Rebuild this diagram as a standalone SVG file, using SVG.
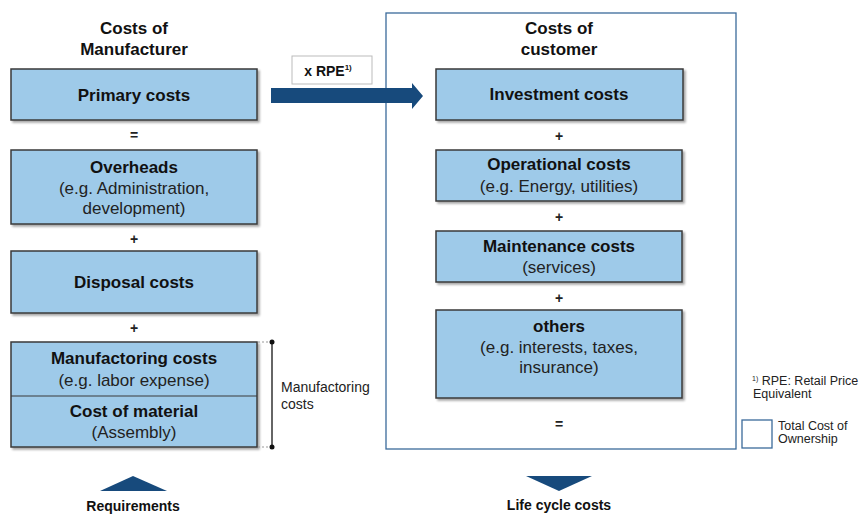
<svg xmlns="http://www.w3.org/2000/svg" width="861" height="517" viewBox="0 0 861 517">
<style>
text{font-family:"Liberation Sans",Arial,sans-serif;fill:#111}
.t{font-size:17px;font-weight:bold;text-anchor:middle}
.s{font-size:17px;text-anchor:middle;fill:#222}
.op{font-size:14px;font-weight:bold;text-anchor:middle;fill:#222}
.box{fill:#9ecae9;stroke:#3a3a3a;stroke-width:1.5;filter:url(#sh)}
.lg{font-size:12.5px;fill:#222}
</style>
<defs>
<filter id="sh" x="-5%" y="-10%" width="115%" height="130%">
<feDropShadow dx="2" dy="2" stdDeviation="1.2" flood-color="#000" flood-opacity="0.35"/>
</filter>
</defs>
<rect width="861" height="517" fill="#fff"/>

<g id="frame-customer">
<rect x="386" y="13" width="350" height="436" fill="none" stroke="#3b6a9a" stroke-width="1.3"/>
<text class="t" x="559" y="34">Costs of</text>
<text class="t" x="559" y="55">customer</text>
</g>

<g id="title-manufacturer">
<text class="t" x="134" y="34">Costs of</text>
<text class="t" x="134" y="55">Manufacturer</text>
</g>

<g id="primary">
<rect class="box" x="11" y="69" width="246" height="51"/>
<text class="t" x="134" y="101">Primary costs</text>
</g>
<text class="op" x="134" y="140">=</text>
<g id="overheads">
<rect class="box" x="11" y="150" width="246" height="74"/>
<text class="t" x="134" y="173">Overheads</text>
<text class="s" x="134" y="194">(e.g. Administration,</text>
<text class="s" x="134" y="214">development)</text>
</g>
<text class="op" x="134" y="244">+</text>
<g id="disposal">
<rect class="box" x="11" y="251" width="246" height="62"/>
<text class="t" x="134" y="288">Disposal costs</text>
</g>
<text class="op" x="134" y="333">+</text>
<g id="manufactoring">
<rect class="box" x="11" y="342" width="246" height="105"/>
<line x1="11" y1="396" x2="257" y2="396" stroke="#3a3a3a" stroke-width="1"/>
<text class="t" x="134" y="364">Manufactoring costs</text>
<text class="s" x="134" y="386">(e.g. labor expense)</text>
<text class="t" x="134" y="417">Cost of material</text>
<text class="s" x="134" y="438">(Assembly)</text>
</g>

<g id="bracket">
<line x1="258" y1="342" x2="272" y2="342" stroke="#999" stroke-width="1" stroke-dasharray="2,2"/>
<line x1="258" y1="447" x2="272" y2="447" stroke="#999" stroke-width="1" stroke-dasharray="2,2"/>
<line x1="272" y1="342" x2="272" y2="447" stroke="#333" stroke-width="1.5"/>
<circle cx="272" cy="342" r="2.5" fill="#111"/>
<circle cx="272" cy="447" r="2.5" fill="#111"/>
<text x="281" y="392" style="font-size:14px;fill:#222">Manufactoring</text>
<text x="281" y="409" style="font-size:14px;fill:#222">costs</text>
</g>

<g id="requirements">
<polygon points="100,491 133,476 167,491" fill="#174a7c"/>
<text x="133" y="511" style="font-size:14px;font-weight:bold;text-anchor:middle">Requirements</text>
</g>

<g id="connectors">
<polygon points="271,88 412,88 412,83 423,96 412,109 412,103 271,103" fill="#174a7c"/>
</g>
<g id="rpe-label">
<rect x="292" y="56" width="80" height="28" fill="#fff" stroke="#bbb" stroke-width="1"/>
<text x="328" y="76" style="font-size:14px;font-weight:bold;text-anchor:middle">x RPE<tspan dy="-6" style="font-size:8px">1)</tspan></text>
</g>

<g id="investment">
<rect class="box" x="436" y="69" width="247" height="51"/>
<text class="t" x="559" y="100">Investment costs</text>
</g>
<text class="op" x="559" y="141">+</text>
<g id="operational">
<rect class="box" x="436" y="150" width="246" height="51"/>
<text class="t" x="559" y="170">Operational costs</text>
<text class="s" x="559" y="192">(e.g. Energy, utilities)</text>
</g>
<text class="op" x="559" y="222">+</text>
<g id="maintenance">
<rect class="box" x="436" y="231" width="246" height="51"/>
<text class="t" x="559" y="252">Maintenance costs</text>
<text class="s" x="559" y="273">(services)</text>
</g>
<text class="op" x="559" y="303">+</text>
<g id="others">
<rect class="box" x="436" y="310" width="246" height="88"/>
<text class="t" x="559" y="332">others</text>
<text class="s" x="559" y="353">(e.g. interests, taxes,</text>
<text class="s" x="559" y="373">insurance)</text>
</g>
<text class="op" x="559" y="429">=</text>

<g id="lifecycle">
<polygon points="526,476 592,476 559,491" fill="#174a7c"/>
<text x="559" y="510" style="font-size:14px;font-weight:bold;text-anchor:middle">Life cycle costs</text>
</g>

<g id="legend">
<text class="lg" x="752" y="385"><tspan dy="-4" style="font-size:7px">1)</tspan><tspan dy="4"> RPE: Retail Price</tspan></text>
<text class="lg" x="753" y="398">Equivalent</text>
<rect x="742" y="420" width="30" height="28" fill="none" stroke="#3b6a9a" stroke-width="1.3"/>
<text class="lg" x="778" y="430">Total Cost of</text>
<text class="lg" x="778" y="443">Ownership</text>
</g>
</svg>
